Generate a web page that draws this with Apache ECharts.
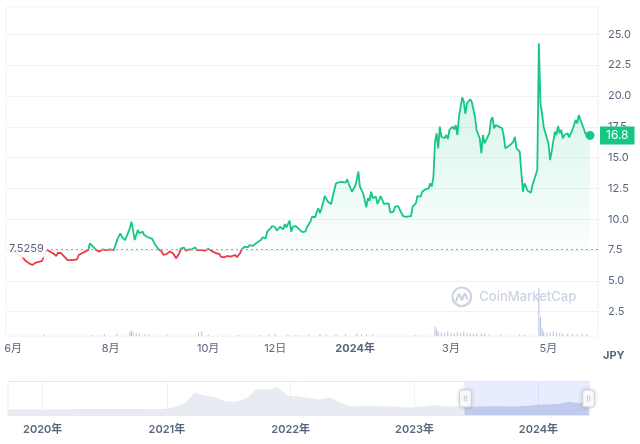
<!DOCTYPE html>
<html>
<head>
<meta charset="utf-8">
<script src="https://cdn.jsdelivr.net/npm/echarts@6/dist/echarts.min.js"></script>
<style>
  html, body { margin: 0; padding: 0; background: #fff; }
  #chart { width: 640px; height: 444px; }
</style>
</head>
<body>
<div id="chart"></div>
<script>
// monthly history for the navigator shadow
const navDates = [
  '2019-09-15','2019-10-15','2019-11-15','2019-12-15',
  '2020-01-15','2020-02-15','2020-03-15','2020-04-15','2020-05-15','2020-06-15',
  '2020-07-15','2020-08-15','2020-09-15','2020-10-15','2020-11-15','2020-12-15',
  '2021-01-15','2021-02-15','2021-03-15','2021-04-15','2021-05-15','2021-06-15',
  '2021-07-15','2021-08-15','2021-09-15','2021-10-15','2021-11-15','2021-12-15',
  '2022-01-15','2022-02-15','2022-03-15','2022-04-15','2022-05-15','2022-06-15',
  '2022-07-15','2022-08-15','2022-09-15','2022-10-15','2022-11-15','2022-12-15',
  '2023-01-15','2023-02-15','2023-03-15','2023-04-15','2023-05-15','2023-06-15',
  '2023-07-15','2023-08-15','2023-09-15','2023-10-15','2023-11-15','2023-12-15',
  '2024-01-15','2024-02-15','2024-03-15','2024-04-15','2024-05-15'
];
const navPrices = [
  1.6, 1.5, 1.4, 1.3,
  1.0, 1.6, 1.2, 1.8, 1.9, 1.8,
  1.9, 2.0, 1.9, 1.7, 1.6, 1.7,
  5, 14, 37, 32, 28, 19,
  18, 26, 46, 44, 49, 31,
  30, 26, 23, 27, 16, 8,
  8.5, 9, 8, 7.5, 6, 5.5,
  7.5, 11, 8, 7.8, 7.4, 6.8,
  7.2, 8.6, 7.4, 7.2, 9.2, 11.5,
  11.8, 13, 17.8, 15, 17
];

// last year, shown in the main chart
const dates = [
  '2023-05-28','2023-06-02','2023-06-06','2023-06-09','2023-06-11','2023-06-12','2023-06-13','2023-06-15',
  '2023-06-16','2023-06-19','2023-06-20','2023-06-22','2023-06-24','2023-06-26','2023-06-28','2023-06-29',
  '2023-07-01','2023-07-03','2023-07-05','2023-07-08','2023-07-11','2023-07-12','2023-07-14','2023-07-16',
  '2023-07-18','2023-07-19','2023-07-20','2023-07-21','2023-07-23','2023-07-25','2023-07-27','2023-07-29',
  '2023-08-01','2023-08-03','2023-08-04','2023-08-05','2023-08-07','2023-08-08','2023-08-10','2023-08-11',
  '2023-08-13','2023-08-14','2023-08-15','2023-08-16','2023-08-18','2023-08-19','2023-08-21','2023-08-22',
  '2023-08-24','2023-08-27','2023-08-29','2023-08-31','2023-09-02','2023-09-03','2023-09-05','2023-09-07',
  '2023-09-09','2023-09-11','2023-09-13','2023-09-14','2023-09-16','2023-09-17','2023-09-19','2023-09-21',
  '2023-09-23','2023-09-24','2023-09-27','2023-09-29','2023-10-01','2023-10-02','2023-10-04','2023-10-06',
  '2023-10-08','2023-10-09','2023-10-11','2023-10-13','2023-10-15','2023-10-18','2023-10-19','2023-10-21',
  '2023-10-22','2023-10-24','2023-10-26','2023-10-27','2023-10-29','2023-10-31','2023-11-01','2023-11-03',
  '2023-11-04','2023-11-06','2023-11-07','2023-11-09','2023-11-10','2023-11-12','2023-11-13','2023-11-15',
  '2023-11-17','2023-11-18','2023-11-19','2023-11-21','2023-11-22','2023-11-23','2023-11-25','2023-11-27',
  '2023-11-29','2023-12-01','2023-12-02','2023-12-04','2023-12-05','2023-12-07','2023-12-08','2023-12-09',
  '2023-12-10','2023-12-11','2023-12-13','2023-12-15','2023-12-17','2023-12-18','2023-12-20','2023-12-21',
  '2023-12-23','2023-12-24','2023-12-26','2023-12-27','2023-12-28','2023-12-30','2024-01-01','2024-01-02',
  '2024-01-03','2024-01-04','2024-01-05','2024-01-06','2024-01-08','2024-01-09','2024-01-10','2024-01-11',
  '2024-01-12','2024-01-14','2024-01-15','2024-01-17','2024-01-18','2024-01-19','2024-01-22','2024-01-23',
  '2024-01-25','2024-01-26','2024-01-28','2024-01-29','2024-01-31','2024-02-02','2024-02-05','2024-02-06',
  '2024-02-08','2024-02-09','2024-02-11','2024-02-12','2024-02-14','2024-02-16','2024-02-17','2024-02-18',
  '2024-02-19','2024-02-20','2024-02-21','2024-02-22','2024-02-23','2024-02-24','2024-02-26','2024-02-27',
  '2024-02-28','2024-02-29','2024-03-02','2024-03-03','2024-03-04','2024-03-05','2024-03-06','2024-03-08',
  '2024-03-09','2024-03-10','2024-03-11','2024-03-13','2024-03-14','2024-03-16','2024-03-17','2024-03-18',
  '2024-03-19','2024-03-20','2024-03-21','2024-03-22','2024-03-23','2024-03-25','2024-03-26','2024-03-27',
  '2024-03-28','2024-03-29','2024-03-31','2024-04-02','2024-04-03','2024-04-04','2024-04-05','2024-04-07',
  '2024-04-09','2024-04-10','2024-04-11','2024-04-13','2024-04-14','2024-04-15','2024-04-16','2024-04-18',
  '2024-04-19','2024-04-20','2024-04-21','2024-04-22','2024-04-23','2024-04-24','2024-04-25','2024-04-26',
  '2024-04-27','2024-04-28','2024-04-30','2024-05-01','2024-05-02','2024-05-03','2024-05-04','2024-05-05',
  '2024-05-06','2024-05-07','2024-05-08','2024-05-09','2024-05-10','2024-05-11','2024-05-13','2024-05-14',
  '2024-05-15','2024-05-16','2024-05-17','2024-05-18','2024-05-19','2024-05-20','2024-05-21','2024-05-22',
  '2024-05-23','2024-05-24','2024-05-25','2024-05-27'
];
const prices = [
  7.58, 7.34, 7.02, 6.61, 6.42, 6.55, 6.29, 6.47,
  6.37, 6.61, 6.69, 7.55, 7.37, 7.24, 7.02, 7.28,
  7.24, 6.96, 6.69, 6.69, 6.75, 7.10, 7.24, 7.37,
  7.50, 8.05, 8.10, 7.77, 7.50, 7.37, 7.56, 7.50,
  7.56, 7.50, 7.64, 8.31, 8.86, 8.58, 8.31, 8.18,
  9.26, 9.80, 9.13, 8.31, 9.13, 8.86, 8.99, 8.72,
  8.56, 8.40, 7.91, 7.56, 7.37, 7.10, 7.18, 7.37,
  7.24, 6.83, 7.24, 7.64, 7.69, 7.45, 7.56, 7.56,
  7.72, 7.50, 7.50, 7.45, 7.61, 7.45, 7.37, 7.24,
  7.18, 6.96, 6.91, 7.02, 6.96, 7.10, 6.91, 7.24,
  7.56, 7.77, 7.72, 7.91, 7.83, 8.05, 8.18, 8.31,
  8.53, 8.45, 8.99, 9.26, 9.45, 9.35, 9.07, 9.39,
  9.18, 9.61, 9.35, 9.88, 8.99, 9.39, 9.45, 9.18,
  8.95, 9.02, 9.39, 9.80, 10.20, 10.16, 10.61, 10.89,
  10.48, 10.89, 11.88, 11.42, 11.23, 11.83, 12.91, 13.04,
  13.04, 13.18, 12.96, 13.24, 12.86, 12.23, 12.70, 13.18,
  13.86, 12.64, 12.78, 12.10, 10.97, 11.70, 11.50, 12.23,
  11.70, 11.83, 11.24, 11.88, 11.56, 11.24, 11.29, 10.53,
  10.61, 11.02, 11.07, 10.75, 10.26, 10.20, 10.26, 11.02,
  11.29, 11.88, 11.83, 12.23, 12.43, 12.51, 12.91, 12.64,
  13.45, 16.29, 16.97, 15.75, 17.52, 16.67, 16.59, 16.83,
  16.51, 17.24, 17.51, 17.29, 17.64, 16.83, 18.32, 19.89,
  19.53, 18.54, 19.40, 19.73, 19.53, 18.32, 17.24, 17.38,
  16.56, 15.35, 16.83, 16.16, 16.29, 16.97, 18.05, 18.27,
  17.38, 17.64, 17.51, 17.38, 16.75, 15.75, 15.88, 16.02,
  16.29, 16.69, 15.75, 15.48, 13.86, 12.23, 12.91, 12.31,
  12.37, 12.15, 12.78, 12.64, 13.59, 13.99, 24.27, 19.40,
  18.59, 17.51, 16.56, 16.16, 14.80, 15.48, 15.48, 17.10,
  16.83, 17.56, 16.97, 17.24, 16.56, 16.83, 16.97, 16.64,
  16.97, 17.24, 17.64, 18.05, 17.78, 18.45, 18.05, 17.91,
  17.38, 16.97, 16.97, 16.80
];

const volumeDates = [
  '2023-06-20','2023-07-20','2023-07-28','2023-08-05','2023-08-13','2023-08-14','2023-08-15','2023-08-17',
  '2023-08-19','2023-08-22','2023-08-25','2023-09-05','2023-09-25','2023-09-27','2023-10-01','2023-10-20',
  '2023-11-02','2023-11-08','2023-11-12','2023-11-20','2023-11-25','2023-12-03','2023-12-10','2023-12-14',
  '2023-12-20','2023-12-26','2024-01-02','2024-01-05','2024-01-08','2024-01-12','2024-02-08','2024-02-20',
  '2024-02-21','2024-02-22','2024-02-24','2024-02-26','2024-02-28','2024-03-01','2024-03-03','2024-03-05',
  '2024-03-07','2024-03-09','2024-03-11','2024-03-13','2024-03-15','2024-03-17','2024-03-20','2024-03-22',
  '2024-03-25','2024-04-01','2024-04-13','2024-04-16','2024-04-25','2024-04-26','2024-04-27','2024-04-28',
  '2024-04-30','2024-05-02','2024-05-04','2024-05-06','2024-05-08','2024-05-10','2024-05-13','2024-05-16',
  '2024-05-19','2024-05-22','2024-05-25'
];
const volumes = [
  3, 2, 4, 5, 9, 12, 8, 6,
  5, 4, 3, 3, 8, 10, 3, 2,
  2, 3, 4, 3, 2, 3, 4, 3,
  3, 4, 5, 4, 3, 3, 2, 19,
  14, 9, 7, 6, 9, 7, 6, 8,
  6, 9, 6, 5, 5, 4, 5, 4,
  3, 3, 3, 2, 100, 40, 16, 9,
  8, 7, 9, 7, 6, 5, 4, 4,
  3, 4, 3
];

const baseline = 7.5259;
const xTickDates = ['2023-06-01', '2023-08-01', '2023-10-01', '2023-11-12', '2024-01-01', '2024-03-01', '2024-05-01'];
const xTickLabels = ['6月', '8月', '10月', '12日', '2024年', '3月', '5月'];
const yearDates = ['2020-01-01', '2021-01-01', '2022-01-01', '2023-01-01', '2024-01-01'];
const yearLabels = ['2020年', '2021年', '2022年', '2023年', '2024年'];

const GREEN = '#16c784';
const RED = '#ea3943';
const GREY = '#58667e';
const LINE = '#eff2f5';
const FONT = 'Inter, "Noto Sans CJK JP", sans-serif';

const ts = (d) => +echarts.time.parse(d);
const navData = navDates.map((d, i) => [ts(d), navPrices[i]]);
const priceData = dates.map((d, i) => [ts(d), prices[i]]);
const volumeData = volumeDates.map((d, i) => [ts(d), volumes[i]]);
const tickTimes = xTickDates.map(ts);
const yearTimes = yearDates.map(ts);
const lastTime = ts(dates[dates.length - 1]);
const lastPrice = prices[prices.length - 1];

const fullMin = ts('2019-09-12');
const fullMax = ts('2024-06-01');
const viewStart = ts('2023-05-27 12:00');

function nearestLabel(times, labels, val) {
  let best = 0;
  times.forEach((t, i) => {
    if (Math.abs(t - val) < Math.abs(times[best] - val)) best = i;
  });
  return labels[best];
}

const chart = echarts.init(document.getElementById('chart'));

const option = {
  animation: false,
  textStyle: { fontFamily: FONT },
  grid: [
    { left: 6, right: 42, top: 3.5, bottom: 101.5 },
    { left: 6, right: 42, top: 7, bottom: 108, show: true, borderColor: LINE, borderWidth: 1 },
    { left: 5, right: 50, top: 381, height: 35 }
  ],
  xAxis: [
    { type: 'value', gridIndex: 0, min: fullMin, max: fullMax, show: false },
    {
      type: 'value',
      gridIndex: 1,
      min: fullMin,
      max: fullMax,
      axisLine: { show: false },
      axisTick: { show: false },
      splitLine: { show: false },
      axisLabel: {
        customValues: tickTimes,
        margin: 7,
        color: GREY,
        fontSize: 11,
        fontFamily: FONT,
        formatter: (val) => {
          const t = nearestLabel(tickTimes, xTickLabels, val);
          return t.endsWith('年') ? '{b|' + t + '}' : t;
        },
        rich: { b: { fontWeight: 700, color: GREY, fontSize: 11, fontFamily: FONT } }
      }
    },
    {
      type: 'value',
      gridIndex: 2,
      min: fullMin,
      max: fullMax,
      axisLine: { show: false },
      axisTick: { show: false, customValues: yearTimes },
      splitLine: { show: true, lineStyle: { color: LINE } },
      axisLabel: {
        customValues: yearTimes,
        margin: 8,
        color: GREY,
        fontSize: 11,
        fontWeight: 600,
        fontFamily: FONT,
        formatter: (val) => nearestLabel(yearTimes, yearLabels, val)
      }
    }
  ],
  yAxis: [
    {
      type: 'value',
      gridIndex: 0,
      position: 'right',
      min: 0,
      max: 27.5,
      interval: 2.5,
      axisLine: { show: false },
      axisTick: { show: false },
      splitLine: { show: true, showMinLine: false, showMaxLine: false, lineStyle: { color: LINE } },
      axisLabel: {
        showMinLabel: false,
        showMaxLabel: false,
        margin: 10,
        color: GREY,
        fontSize: 11,
        fontFamily: FONT,
        formatter: (v) => v.toFixed(1)
      },
      axisPointer: {
        show: true,
        type: 'line',
        value: lastPrice,
        status: 'show',
        triggerTooltip: false,
        lineStyle: { color: 'rgba(0,0,0,0)' },
        label: {
          show: true,
          margin: 2,
          padding: [3, 6],
          fontSize: 12,
          fontFamily: FONT,
          color: '#fff',
          backgroundColor: GREEN,
          borderRadius: 0,
          formatter: (p) => Number(p.value).toFixed(1)
        }
      }
    },
    { type: 'value', gridIndex: 1, min: 0, max: 685, show: false },
    { type: 'value', gridIndex: 2, min: 0, max: 1, show: false }
  ],
  visualMap: {
    show: false,
    type: 'piecewise',
    seriesIndex: 1,
    dimension: 1,
    pieces: [
      { lt: baseline, color: RED },
      { gte: baseline, lte: 1000, color: GREEN },
      { gt: 1000, color: GREEN }
    ]
  },
  dataZoom: [
    {
      type: 'slider',
      xAxisIndex: [0, 1],
      startValue: viewStart,
      endValue: fullMax,
      filterMode: 'filter',
      left: 5,
      right: 53,
      top: 381,
      height: 35,
      showDetail: false,
      brushSelect: false,
      moveHandleSize: 0,
      borderColor: '#e6eaf0',
      backgroundColor: 'rgba(0,0,0,0)',
      fillerColor: 'rgba(56,97,251,0.12)',
      dataBackground: {
        lineStyle: { opacity: 0 },
        areaStyle: { color: '#e8ebf1', opacity: 1 }
      },
      selectedDataBackground: {
        lineStyle: { opacity: 0 },
        areaStyle: { color: '#d3d9ea', opacity: 1 }
      },
      handleIcon: 'path://M2,0h7a2,2,0,0,1,2,2v12a2,2,0,0,1-2,2h-7a2,2,0,0,1-2-2v-12a2,2,0,0,1,2-2z M4.5,5v6 M6.5,5v6',
      handleSize: 17,
      handleStyle: {
        color: '#fff',
        borderColor: '#c9cfda',
        borderWidth: 1,
        shadowBlur: 4,
        shadowColor: 'rgba(0,0,0,0.15)'
      }
    }
  ],
  series: [
    {
      name: 'history',
      type: 'line',
      xAxisIndex: 0,
      yAxisIndex: 0,
      data: navData,
      silent: true,
      symbol: 'none',
      showSymbol: false,
      lineStyle: { opacity: 0 },
      z: 0
    },
    {
      name: 'price',
      type: 'line',
      xAxisIndex: 0,
      yAxisIndex: 0,
      data: priceData,
      showSymbol: false,
      symbol: 'none',
      lineStyle: { width: 1.8 },
      areaStyle: {
        origin: baseline,
        color: new echarts.graphic.LinearGradient(0, 0, 0, 1, [
          { offset: 0, color: 'rgba(22,199,132,0.32)' },
          { offset: 1, color: 'rgba(22,199,132,0.0)' }
        ])
      },
      markLine: {
        silent: true,
        symbol: ['none', 'none'],
        lineStyle: { type: [2, 3], color: '#9ea6b8', width: 1 },
        label: {
          show: true,
          position: 'insideStartTop',
          distance: [0, -8],
          formatter: String(baseline),
          color: GREY,
          fontSize: 11,
          fontFamily: FONT,
          padding: [3, 3],
          backgroundColor: 'rgba(255,255,255,0.88)'
        },
        data: [{ yAxis: baseline }]
      },
      markPoint: {
        silent: true,
        symbol: 'circle',
        symbolSize: 9,
        itemStyle: { color: GREEN },
        label: { show: false },
        data: [{ coord: [lastTime, lastPrice] }]
      }
    },
    {
      name: 'volume',
      type: 'bar',
      xAxisIndex: 1,
      yAxisIndex: 1,
      data: volumeData,
      barWidth: 1,
      itemStyle: { color: '#b7c1dc' }
    }
  ],
  graphic: [
    {
      type: 'text',
      left: 603,
      top: 350,
      style: { text: 'JPY', fill: GREY, font: '700 11px ' + FONT }
    },
    {
      type: 'group',
      left: 450,
      top: 285,
      silent: true,
      children: [
        {
          type: 'circle',
          shape: { cx: 10.5, cy: 10.5, r: 9.3 },
          style: { fill: 'none', stroke: '#ccd3e2', lineWidth: 2.2 }
        },
        {
          type: 'polyline',
          shape: { points: [[5, 14.5], [7.8, 8], [10.5, 13.5], [13.3, 7.5], [16, 12.5]], smooth: 0.35 },
          style: { fill: 'none', stroke: '#ccd3e2', lineWidth: 2.2, lineCap: 'round' }
        },
        {
          type: 'text',
          x: 28,
          y: 10.5,
          style: {
            text: 'CoinMarketCap',
            fill: '#ccd3e2',
            font: '500 13px ' + FONT,
            verticalAlign: 'middle'
          }
        }
      ]
    }
  ]
};

chart.setOption(option);
</script>
</body>
</html>
